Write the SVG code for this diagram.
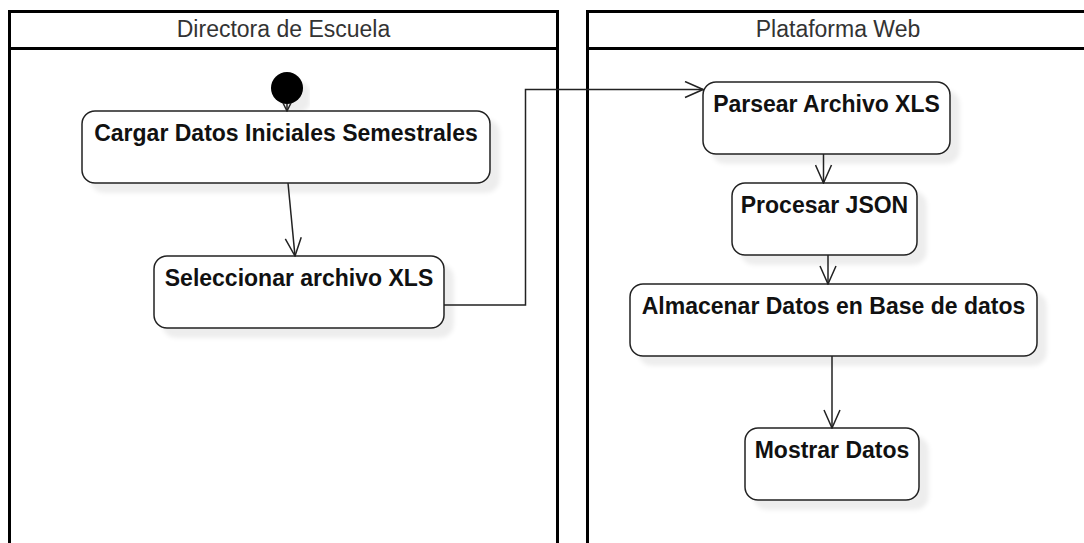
<svg xmlns="http://www.w3.org/2000/svg" width="1084" height="543" viewBox="0 0 1084 543">
<style>
.lane{fill:none;stroke:#000;stroke-width:3}
.hdr{font-family:"Liberation Sans",Arial,sans-serif;font-size:23px;fill:#333;text-anchor:middle}
.box{fill:#fff;stroke:#222;stroke-width:1.5}
.lbl{font-family:"Liberation Sans",Arial,sans-serif;font-size:23px;font-weight:bold;fill:#111;text-anchor:middle}
.edge{fill:none;stroke:#222;stroke-width:1.5}
</style>
<defs>
<filter id="sh" x="-10%" y="-10%" width="130%" height="140%">
<feOffset in="SourceAlpha" dx="9" dy="9" result="o"/>
<feGaussianBlur in="o" stdDeviation="2" result="b"/>
<feFlood flood-color="#000" flood-opacity="0.07"/>
<feComposite in2="b" operator="in" result="s"/>
<feMerge><feMergeNode in="s"/><feMergeNode in="SourceGraphic"/></feMerge>
</filter>
<marker id="open" viewBox="0 0 20 18" refX="19" refY="9" markerWidth="20" markerHeight="18" markerUnits="userSpaceOnUse" orient="auto">
<path d="M1,1 L19,9 L1,17" fill="none" stroke="#222" stroke-width="1.5"/>
</marker>
<marker id="small" viewBox="0 0 10 10" refX="9" refY="5" markerWidth="10" markerHeight="10" markerUnits="userSpaceOnUse" orient="auto">
<path d="M1,1 L9,5 L1,9" fill="none" stroke="#222" stroke-width="1.5"/>
</marker>
</defs>
<rect width="1084" height="543" fill="#fff"/>

<g id="lane-directora">
<path class="lane" d="M9.5,560 V11.5 H557.5 V560"/>
<line class="lane" x1="9.5" y1="48.5" x2="557.5" y2="48.5"/>
<text class="hdr" x="283.5" y="37">Directora de Escuela</text>
</g>
<g id="lane-plataforma">
<path class="lane" d="M587.5,560 V11.5 H1095"/>
<line class="lane" x1="587.5" y1="48.5" x2="1095" y2="48.5"/>
<text class="hdr" x="838" y="37">Plataforma Web</text>
</g>

<g id="start">
<circle cx="287" cy="88" r="16" fill="#000" filter="url(#sh)"/>
</g>
<g id="cargar">
<rect class="box" x="82" y="111" width="408" height="72" rx="13" filter="url(#sh)"/>
<text class="lbl" x="286" y="141">Cargar Datos Iniciales Semestrales</text>
</g>
<g id="seleccionar">
<rect class="box" x="154" y="256" width="290" height="72" rx="13" filter="url(#sh)"/>
<text class="lbl" x="299" y="286">Seleccionar archivo XLS</text>
</g>
<g id="parsear">
<rect class="box" x="703" y="82" width="247" height="72" rx="13" filter="url(#sh)"/>
<text class="lbl" x="826.5" y="112">Parsear Archivo XLS</text>
</g>
<g id="procesar">
<rect class="box" x="732" y="183" width="185" height="72" rx="13" filter="url(#sh)"/>
<text class="lbl" x="824.5" y="213">Procesar JSON</text>
</g>
<g id="almacenar">
<rect class="box" x="630" y="284" width="407" height="72" rx="13" filter="url(#sh)"/>
<text class="lbl" x="833.5" y="314">Almacenar Datos en Base de datos</text>
</g>
<g id="mostrar">
<rect class="box" x="745" y="428" width="174" height="72" rx="13" filter="url(#sh)"/>
<text class="lbl" x="832" y="458">Mostrar Datos</text>
</g>

<g id="connectors">
<line class="edge" x1="287" y1="104" x2="287" y2="111" marker-end="url(#small)"/>
<line class="edge" x1="288" y1="183" x2="295" y2="256" marker-end="url(#open)"/>
<polyline class="edge" points="444,305 525.5,305 525.5,89.5 703,89.5" marker-end="url(#open)"/>
<line class="edge" x1="823.5" y1="154" x2="823.5" y2="183" marker-end="url(#open)"/>
<line class="edge" x1="828" y1="255" x2="828" y2="284" marker-end="url(#open)"/>
<line class="edge" x1="832" y1="356" x2="832" y2="428" marker-end="url(#open)"/>
</g>
</svg>
